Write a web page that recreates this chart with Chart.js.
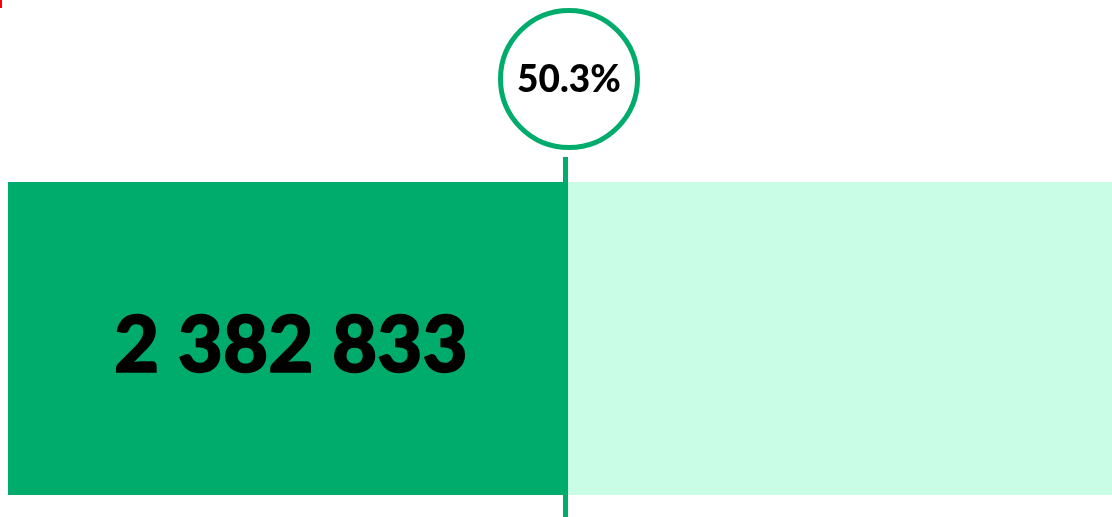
<!DOCTYPE html>
<html>
<head>
<meta charset="utf-8">
<script src="https://cdn.jsdelivr.net/npm/chart.js@4"></script>
<style>
  html, body { margin: 0; padding: 0; background: #fff; }
  #wrap { position: relative; width: 1112px; height: 517px; }
  #mark { position: absolute; left: 0; top: 0; width: 2px; height: 8px; background: #ff0000; }
</style>
</head>
<body>
<div id="wrap">
  <canvas id="chart" width="1112" height="517"></canvas>
  <div id="mark"></div>
</div>
<script>
const categories = ["Total"];
const shareValues = [2382833];
const restValues = [2318900];
const shareLabel = "50.3%";
const valueLabel = "2 382 833";

const GREEN = "#00ac6b";
const MINT = "#c9fde6";

const markerPlugin = {
  id: "marker",
  afterDatasetsDraw(chart) {
    const { ctx, scales } = chart;
    const x = scales.x.getPixelForValue(shareValues[0]);
    const area = chart.chartArea;

    // big number in the middle of the green part
    ctx.save();
    ctx.fillStyle = "#000";
    ctx.font = "900 78px Lato";
    ctx.textAlign = "center";
    ctx.textBaseline = "middle";
    ctx.lineWidth = 1.5;
    ctx.strokeStyle = "#000";
    const tx = (area.left + x) / 2 + 3, ty = (area.top + area.bottom) / 2 + 8;
    ctx.fillText(valueLabel, tx, ty);
    ctx.strokeText(valueLabel, tx, ty);

    // vertical line through the bar
    const lx = x - 2;
    ctx.strokeStyle = GREEN;
    ctx.lineWidth = 5;
    ctx.beginPath();
    ctx.moveTo(lx, 157);
    ctx.lineTo(lx, chart.height);
    ctx.stroke();

    // circle with percentage
    const cx = x + 1.5, cy = 79, r = 68.5;
    ctx.beginPath();
    ctx.arc(cx, cy, r, 0, Math.PI * 2);
    ctx.fillStyle = "#fff";
    ctx.fill();
    ctx.lineWidth = 5;
    ctx.stroke();
    ctx.fillStyle = "#000";
    ctx.font = "900 37px Lato";
    ctx.fillText(shareLabel, cx, cy + 1);
    ctx.restore();
  }
};

new Chart(document.getElementById("chart"), {
  type: "bar",
  data: {
    labels: categories,
    datasets: [
      { data: shareValues, backgroundColor: GREEN, barPercentage: 1, categoryPercentage: 1 },
      { data: restValues, backgroundColor: MINT, barPercentage: 1, categoryPercentage: 1 }
    ]
  },
  options: {
    indexAxis: "y",
    responsive: false,
    animation: false,
    layout: { padding: { left: 8, right: 0, top: 182, bottom: 22 } },
    scales: {
      x: { stacked: true, display: false, min: 0, max: shareValues[0] + restValues[0] },
      y: { stacked: true, display: false }
    },
    plugins: { legend: { display: false }, tooltip: { enabled: false } }
  },
  plugins: [markerPlugin]
});
</script>
</body>
</html>
